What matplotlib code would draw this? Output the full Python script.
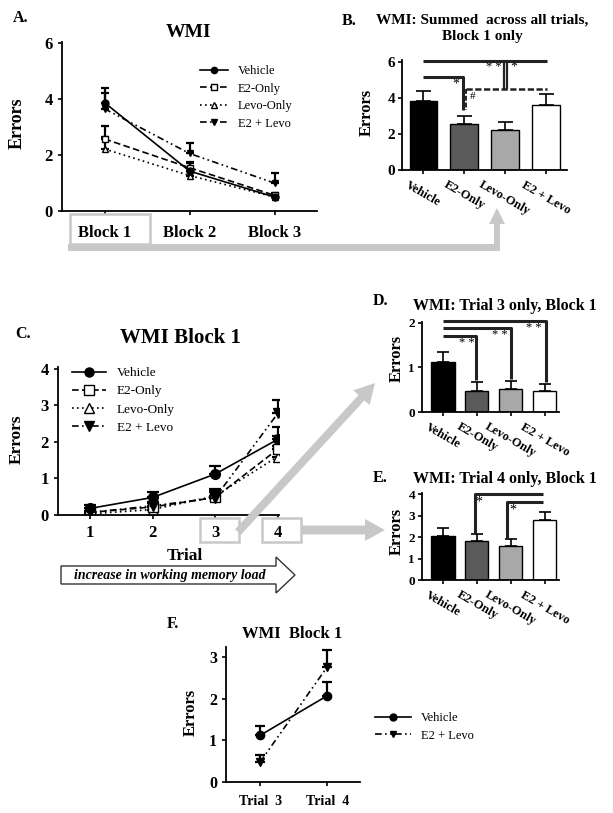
import numpy as np
import matplotlib
matplotlib.use("Agg")
import matplotlib.pyplot as plt
from matplotlib.patches import Rectangle, Polygon, FancyArrow
from matplotlib.lines import Line2D
from matplotlib.transforms import ScaledTranslation

plt.rcParams['font.family'] = ['Liberation Serif', 'DejaVu Serif']
plt.rcParams['font.weight'] = 'bold'
plt.rcParams['axes.linewidth'] = 1.3

groups = ['Vehicle', 'E2-Only', 'Levo-Only', 'E2 + Levo']
bar_colors = ['#000000', '#5a5a5a', '#a8a8a8', '#ffffff']

# A: errors per block
blocks = ['Block 1', 'Block 2', 'Block 3']
a_vehicle = [3.88, 1.43, 0.50]
a_vehicle_sem = [0.52, 0.30, 0.08]
a_e2 = [2.58, 1.55, 0.56]
a_e2_sem = [0.47, 0.20, 0.08]
a_levo = [2.22, 1.27, 0.50]
a_levo_sem = [0.42, 0.15, 0.08]
a_e2levo = [3.66, 2.06, 1.00]
a_e2levo_sem = [0.55, 0.36, 0.36]

# B: summed across trials, block 1
b_means = [3.85, 2.55, 2.20, 3.60]
b_sem = [0.55, 0.47, 0.45, 0.60]

# C: block 1 per trial
trials = [1, 2, 3, 4]
c_vehicle = [0.18, 0.48, 1.12, 2.07]
c_vehicle_sem = [0.08, 0.14, 0.23, 0.33]
c_e2 = [0.07, 0.22, 0.48, 1.80]
c_e2_sem = [0.05, 0.10, 0.19, 0.35]
c_levo = [0.03, 0.15, 0.52, 1.60]
c_levo_sem = [0.03, 0.08, 0.18, 0.30]
c_e2levo = [0.07, 0.25, 0.47, 2.78]
c_e2levo_sem = [0.05, 0.10, 0.16, 0.38]

# D / E: trial 3 and trial 4 only
d_means = [1.12, 0.48, 0.52, 0.47]
d_sem = [0.23, 0.19, 0.18, 0.16]
e_means = [2.07, 1.80, 1.60, 2.80]
e_sem = [0.33, 0.35, 0.30, 0.38]

# F: trial 3 vs trial 4
f_trials = ['Trial  3', 'Trial  4']
f_vehicle = [1.12, 2.07]
f_vehicle_sem = [0.23, 0.33]
f_e2levo = [0.48, 2.76]
f_e2levo_sem = [0.16, 0.40]

styles = {
    'Vehicle': dict(ls='-', marker='o', mfc='black'),
    'E2-Only': dict(ls=(0, (4, 2)), marker='s', mfc='white'),
    'Levo-Only': dict(ls=(0, (1, 2)), marker='^', mfc='white'),
    'E2 + Levo': dict(ls=(0, (4, 2, 1, 2, 1, 2)), marker='v', mfc='black'),
}

W, H = 613, 813
fig = plt.figure(figsize=(W / 100, H / 100), dpi=100)


def px_axes(l, t, r, b):
    return fig.add_axes([l / W, 1 - b / H, (r - l) / W, (b - t) / H])


def ftext(x, y, s, **kw):
    fig.text(x / W, 1 - y / H, s, **kw)


def clean(ax):
    ax.spines['top'].set_visible(False)
    ax.spines['right'].set_visible(False)
    ax.tick_params(direction='out', length=3, width=1.2)


def trend(ax, x, y, sem, name, ms, cap):
    st = styles[name]
    ax.errorbar(x, y, yerr=[np.zeros(len(sem)), sem], color='black', lw=1.2,
                ls=st['ls'], marker=st['marker'], mfc=st['mfc'], mec='black',
                ms=ms, capsize=cap, elinewidth=1.6, capthick=1.6)


def legend(ax, names, x, y, size, ms, hl):
    handles = [Line2D([], [], color='black', lw=1.2, ls=styles[n]['ls'],
                      marker=styles[n]['marker'], mfc=styles[n]['mfc'],
                      mec='black', ms=ms) for n in names]
    ax.legend(handles, names, loc='upper left', bbox_to_anchor=(x / W, 1 - y / H),
              bbox_transform=fig.transFigure, frameon=False, borderpad=0,
              borderaxespad=0, handlelength=hl, handletextpad=0.8,
              labelspacing=0.45, prop={'size': size, 'weight': 'normal'})


def bars(ax, means, sem, cap, ymax, ticks, size):
    x = np.arange(len(groups))
    ax.bar(x, means, width=0.68, color=bar_colors, edgecolor='black', lw=1)
    ax.errorbar(x, means, yerr=[np.zeros(len(sem)), sem], fmt='none',
                ecolor='black', elinewidth=1.2, capsize=cap, capthick=1.2)
    ax.set_ylim(0, ymax)
    ax.set_yticks(ticks)
    ax.set_xticks(x)
    ax.set_xticklabels(groups, rotation=-30, ha='center', va='top', fontsize=9)
    off = ScaledTranslation(6 / 72, 0, fig.dpi_scale_trans)
    for lab in ax.get_xticklabels():
        lab.set_transform(lab.get_transform() + off)
    ax.tick_params(axis='y', labelsize=size, pad=2)
    clean(ax)


def seg(ax, xs, ys, ls='-', lw=2.2):
    ax.plot(xs, ys, color='#222222', lw=lw, ls=ls, clip_on=False,
            solid_capstyle='butt', zorder=4)


# ---- A
axA = px_axes(62, 42, 317, 211)
trend(axA, [1, 2, 3], a_levo, a_levo_sem, 'Levo-Only', 4, 3)
trend(axA, [1, 2, 3], a_e2, a_e2_sem, 'E2-Only', 4.5, 3)
trend(axA, [1, 2, 3], a_e2levo, a_e2levo_sem, 'E2 + Levo', 5, 3)
trend(axA, [1, 2, 3], a_vehicle, a_vehicle_sem, 'Vehicle', 5, 3)
axA.set_xlim(0.5, 3.5)
axA.set_ylim(0, 6.05)
axA.set_yticks([0, 2, 4, 6])
axA.set_xticks([1, 2, 3])
axA.set_xticklabels(blocks, fontsize=12)
axA.tick_params(axis='x', pad=7)
axA.tick_params(axis='y', labelsize=12)
clean(axA)
legend(axA, groups, 200, 65, 9, 4.5, 2.2)
ftext(188, 37, 'WMI', fontsize=14, ha='center', va='baseline')
ftext(13, 22, 'A.', fontsize=11.5, ha='left', va='baseline')
ftext(17, 123, 'Errors', fontsize=13, rotation=90, ha='center', va='center')

# ---- B
axB = px_axes(402, 60, 567, 170)
bars(axB, b_means, b_sem, 5.4, 6.1, [0, 2, 4, 6], 11)
seg(axB, [0, 3.03], [6.05, 6.05])
seg(axB, [1.97, 1.97], [6.05, 4.5], lw=1.6)
seg(axB, [2.05, 2.05], [6.05, 4.5], lw=1.6)
seg(axB, [0, 0.98, 0.98], [5.13, 5.13, 3.32])
seg(axB, [1.05, 3.03], [4.47, 4.47], ls=(0, (2.5, 1)), lw=1.8)
seg(axB, [1.05, 1.05], [4.47, 3.32], ls=(0, (2.5, 1)), lw=1.4)
axB.text(1.72, 5.7, '* *', fontsize=9, ha='center', va='center', fontweight='normal')
axB.text(2.23, 5.7, '*', fontsize=10, ha='center', va='center', fontweight='normal')
axB.text(0.79, 4.75, '*', fontsize=10, ha='center', va='center', fontweight='normal')
axB.text(1.22, 4.1, '#', fontsize=8, ha='center', va='center', fontweight='normal')
ftext(482, 24, 'WMI: Summed  across all trials,', fontsize=11, ha='center', va='baseline')
ftext(482, 40, 'Block 1 only', fontsize=11, ha='center', va='baseline')
ftext(342, 25, 'B.', fontsize=11.5, ha='left', va='baseline')
ftext(367, 112, 'Errors', fontsize=12, rotation=90, ha='center', va='center')

# ---- C
axC = px_axes(58, 367, 279, 515)
trend(axC, trials, c_levo, c_levo_sem, 'Levo-Only', 7, 4)
trend(axC, trials, c_e2, c_e2_sem, 'E2-Only', 7, 4)
trend(axC, trials, c_e2levo, c_e2levo_sem, 'E2 + Levo', 7, 4)
trend(axC, trials, c_vehicle, c_vehicle_sem, 'Vehicle', 7, 4)
axC.set_xlim(0.49, 4.02)
axC.set_ylim(0, 4.05)
axC.set_yticks([0, 1, 2, 3, 4])
axC.set_xticks(trials)
axC.tick_params(axis='x', labelsize=12, pad=4)
axC.tick_params(axis='y', labelsize=12)
clean(axC)
legend(axC, groups, 72, 367, 9.5, 6.5, 2.6)
ftext(180, 343, 'WMI Block 1', fontsize=15, ha='center', va='baseline')
ftext(15, 338, 'C.', fontsize=11.5, ha='left', va='baseline')
ftext(17, 439, 'Errors', fontsize=12.5, rotation=90, ha='center', va='center')
ftext(185, 560, 'Trial', fontsize=12.5, ha='center', va='baseline')

# ---- D
axD = px_axes(422, 322, 559, 412)
bars(axD, d_means, d_sem, 4.3, 2.02, [0, 1, 2], 9.5)
axD.set_xlim(-0.62, 3.42)
seg(axD, [0, 0.98, 0.98], [1.70, 1.70, 0.72])
seg(axD, [0, 2.0, 2.0], [1.88, 1.88, 0.75])
seg(axD, [0, 3.03, 3.03], [2.05, 2.05, 0.68])
for xx, yy in [(0.69, 1.55), (1.66, 1.73), (2.69, 1.89)]:
    axD.text(xx, yy, '* *', fontsize=9, ha='center', va='center', fontweight='normal')
ftext(505, 310, 'WMI: Trial 3 only, Block 1', fontsize=11.5, ha='center', va='baseline')
ftext(373, 305, 'D.', fontsize=11.5, ha='left', va='baseline')
ftext(397, 358, 'Errors', fontsize=12, rotation=90, ha='center', va='center')

# ---- E
axE = px_axes(422, 493, 559, 580)
bars(axE, e_means, e_sem, 4.3, 4.05, [0, 1, 2, 3, 4], 9.5)
axE.set_xlim(-0.62, 3.42)
seg(axE, [0.95, 0.95, 2.95], [2.17, 3.99, 3.99])
seg(axE, [1.88, 1.88, 2.95], [1.95, 3.64, 3.64])
axE.text(1.05, 3.62, '*', fontsize=10, ha='center', va='center', fontweight='normal')
axE.text(2.05, 3.27, '*', fontsize=10, ha='center', va='center', fontweight='normal')
ftext(505, 483, 'WMI: Trial 4 only, Block 1', fontsize=11.5, ha='center', va='baseline')
ftext(373, 482, 'E.', fontsize=11.5, ha='left', va='baseline')
ftext(397, 531, 'Errors', fontsize=12, rotation=90, ha='center', va='center')

# ---- F
axF = px_axes(226, 647, 360, 782)
trend(axF, [0, 1], f_e2levo, f_e2levo_sem, 'E2 + Levo', 6, 3.5)
trend(axF, [0, 1], f_vehicle, f_vehicle_sem, 'Vehicle', 6, 3.5)
axF.set_xlim(-0.51, 1.49)
axF.set_ylim(0, 3.24)
axF.set_yticks([0, 1, 2, 3])
axF.set_xticks([0, 1])
axF.set_xticklabels(f_trials, fontsize=10)
axF.tick_params(axis='x', pad=6)
axF.tick_params(axis='y', labelsize=11.5)
clean(axF)
legend(axF, ['Vehicle', 'E2 + Levo'], 375, 712, 9, 5, 2.9)
ftext(292, 638, 'WMI  Block 1', fontsize=12, ha='center', va='baseline')
ftext(167, 628, 'F.', fontsize=11.5, ha='left', va='baseline')
ftext(191, 712, 'Errors', fontsize=12, rotation=90, ha='center', va='center')

# ---- overlay: grey callouts and load arrow
ov = fig.add_axes([0, 0, 1, 1], zorder=10)
ov.set_xlim(0, W)
ov.set_ylim(H, 0)
ov.axis('off')
ov.patch.set_alpha(0)
grey = '#c8c8c8'
for (l, t, r, b) in [(70, 214, 150, 244), (200, 518, 239, 542), (262, 518, 301, 542)]:
    ov.add_patch(Rectangle((l, t), r - l, b - t, fill=False, ec=grey, lw=1.8))
ov.add_patch(Polygon([(68, 244), (494, 244), (494, 224), (489, 224), (497, 208),
                      (505, 224), (500, 224), (500, 251), (68, 251)],
                     closed=True, fc=grey, ec='none'))
ov.add_patch(FancyArrow(238, 532, 137, -149, width=8, head_width=22, head_length=20,
                        length_includes_head=True, fc=grey, ec='none'))
ov.add_patch(FancyArrow(301, 530, 84, 0, width=9, head_width=22, head_length=20,
                        length_includes_head=True, fc=grey, ec='none'))
ov.add_patch(Polygon([(61, 566), (276, 566), (276, 557), (295, 575), (276, 593),
                      (276, 584), (61, 584)], closed=True, fc='white', ec='#333333', lw=1))
ov.text(170, 575, 'increase in working memory load', fontsize=10, style='italic',
        ha='center', va='center')

fig.savefig('out.png', dpi=100)
